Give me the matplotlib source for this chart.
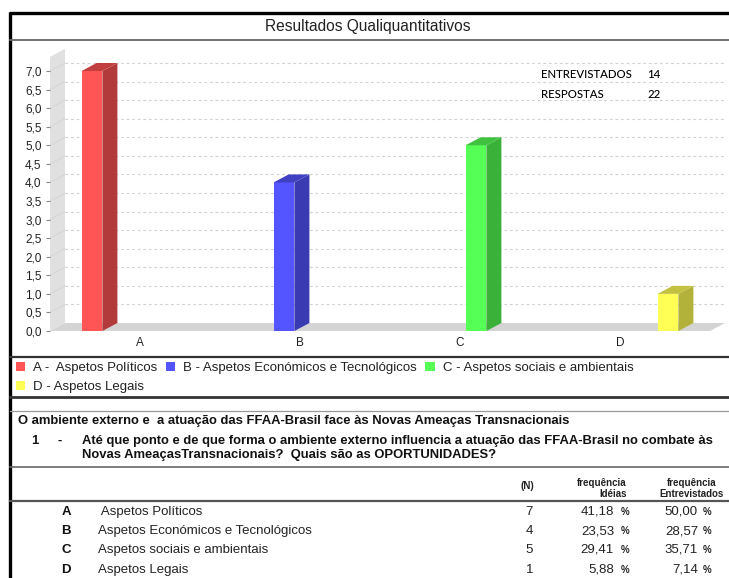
import matplotlib
matplotlib.use('Agg')
import matplotlib.pyplot as plt
from matplotlib.patches import Polygon
import numpy as np

plt.rcParams['font.family'] = ['Liberation Sans', 'DejaVu Sans']

# ---------------- data ----------------
categories = ['A', 'B', 'C', 'D']
series_names = ['A -  Aspetos Políticos', 'B - Aspetos Económicos e Tecnológicos',
                'C - Aspetos sociais e ambientais', 'D - Aspetos Legais']
values_A = [7, 0, 0, 0]
values_B = [0, 4, 0, 0]
values_C = [0, 0, 5, 0]
values_D = [0, 0, 0, 1]
y_ticks = [0.0, 0.5, 1.0, 1.5, 2.0, 2.5, 3.0, 3.5, 4.0, 4.5, 5.0, 5.5, 6.0, 6.5, 7.0]
entrevistados = 14
respostas = 22

table_letters = ['A', 'B', 'C', 'D']
table_names = [' Aspetos Políticos', 'Aspetos Económicos e Tecnológicos',
               'Aspetos sociais e ambientais', 'Aspetos Legais']
table_n = [7, 4, 5, 1]
freq_ideias = ['41,18', '23,53', '29,41', '5,88']
freq_entrev = ['50,00', '28,57', '35,71', '7,14']

# ---------------- styles ----------------
front_colors = ['#FF5555', '#5555FF', '#55FF55', '#FFFF55']
side_colors = ['#B23A3A', '#3A3AB2', '#3AB23A', '#B2B23A']
top_colors = ['#C23F3F', '#4040C2', '#40C240', '#C2C240']

W, H = 729, 578
fig = plt.figure(figsize=(W / 100, H / 100), dpi=100)

ov = fig.add_axes([0, 0, 1, 1], zorder=0)
ov.set_xlim(0, W)
ov.set_ylim(H, 0)
ov.axis('off')

# ---------------- chart axes ----------------
px_per_unit = 260 / 7.0
y0_px = 331
ytop = 7.38
x_left_px, x_right_px = 50, 710
ax = fig.add_axes([x_left_px / W, (H - y0_px) / H,
                   (x_right_px - x_left_px) / W, ytop * px_per_unit / H], zorder=2)
xlo, xhi = -0.5625, 3.5625
ax.set_xlim(xlo, xhi)
ax.set_ylim(0, ytop)
ax.patch.set_alpha(0)
for s in ax.spines.values():
    s.set_visible(False)

dx = 15 / (x_right_px - x_left_px) * (xhi - xlo)
dy = 8 / px_per_unit

# wall
ax.add_patch(Polygon([(xlo, 0), (xlo + dx, dy), (xlo + dx, ytop + dy), (xlo, ytop)],
                     closed=True, facecolor='#E0E0E0', edgecolor='none', clip_on=False, zorder=1))
# floor
ax.add_patch(Polygon([(xlo, 0), (xhi, 0), (xhi + dx, dy), (xlo + dx, dy)],
                     closed=True, facecolor='#D4D4D4', edgecolor='none', clip_on=False, zorder=1))
# gridlines
for v in y_ticks[1:]:
    ax.plot([xlo + dx, xhi + dx], [v + dy, v + dy], color='#D2D2D2', lw=0.8,
            ls=(0, (2.5, 2.5)), clip_on=False, zorder=1.5)
    ax.plot([xlo, xlo + dx], [v, v + dy], color='#D4D4D4', lw=0.6, clip_on=False, zorder=1.5)

# bars
x = np.arange(len(categories))
offsets = [-0.3, -0.1, 0.1, 0.3]
bw = 0.13
handles = []
for i, vals in enumerate([values_A, values_B, values_C, values_D]):
    bars = ax.bar(x + offsets[i], vals, width=bw, color=front_colors[i],
                  edgecolor='none', zorder=3, clip_on=False, label=series_names[i])
    handles.append(bars)
    for xi, v in zip(x, vals):
        if v <= 0:
            continue
        xl = xi + offsets[i] - bw / 2
        xr = xi + offsets[i] + bw / 2
        ax.add_patch(Polygon([(xr, 0), (xr + dx, dy), (xr + dx, v + dy), (xr, v)], closed=True,
                             facecolor=side_colors[i], edgecolor='none', zorder=3, clip_on=False))
        ax.add_patch(Polygon([(xl, v), (xl + dx, v + dy), (xr + dx, v + dy), (xr, v)], closed=True,
                             facecolor=top_colors[i], edgecolor='none', zorder=3, clip_on=False))

ax.set_yticks(y_ticks)
ax.set_yticklabels([f'{v:.1f}'.replace('.', ',') for v in y_ticks], fontsize=8.5, color='#222222')
ax.tick_params(axis='y', length=3, width=0.8, color='#888888', pad=3)
ax.set_xticks(x)
ax.set_xticklabels(categories, fontsize=8.5, color='#222222')
ax.tick_params(axis='x', length=0, pad=4)

# legend
leg = ax.legend(handles=[handles[0], handles[3], handles[1], handles[2]],
                labels=[series_names[0], series_names[3], series_names[1], series_names[2]],
                ncol=3, loc='upper left', bbox_to_anchor=(16 / W, (H - 362) / H),
                bbox_transform=fig.transFigure, frameon=False, fontsize=9.5,
                handlelength=0.7, handleheight=0.7, handletextpad=0.6,
                columnspacing=0.65, labelspacing=0.5, borderaxespad=0, borderpad=0)
for t in leg.get_texts():
    t.set_color('#222222')

# ---------------- frame / separators ----------------
ov.plot([9, W], [13, 13], color='black', lw=2.4, solid_capstyle='butt')
ov.plot([10, 10], [12, H], color='black', lw=2.4, solid_capstyle='butt')
ov.plot([10, W], [40, 40], color='#666666', lw=1.3)
ov.plot([10, W], [357, 357], color='#333333', lw=1.6)
ov.plot([10, W], [397, 397], color='#333333', lw=2.0)
ov.plot([10, W], [411, 411], color='#999999', lw=0.9)
ov.plot([10, W], [467, 467], color='#666666', lw=1.2)
ov.plot([10, W], [501, 501], color='#555555', lw=1.6)

# title
ov.text(368, 27, 'Resultados Qualiquantitativos', ha='center', va='center',
        fontsize=11.2, color='#222222')

# counts box
cfam = ['Lato', 'DejaVu Sans']
ov.text(541, 74, 'ENTREVISTADOS', ha='left', va='center', fontsize=8.2,
        family=cfam, fontweight='medium', color='black')
ov.text(647, 74, f'{entrevistados}', ha='left', va='center', fontsize=8.2,
        family=cfam, fontweight='medium', color='black')
ov.text(541, 94, 'RESPOSTAS', ha='left', va='center', fontsize=8.2,
        family=cfam, fontweight='medium', color='black')
ov.text(647, 94, f'{respostas}', ha='left', va='center', fontsize=8.2,
        family=cfam, fontweight='medium', color='black')

# question text
qfs = 9.4
ov.text(18, 421, 'O ambiente externo e  a atuação das FFAA-Brasil face às Novas Ameaças Transnacionais',
        ha='left', va='center', fontsize=qfs, fontweight='bold', color='#111111')
ov.text(31, 441, '1', ha='left', va='center', fontsize=qfs, fontweight='bold', color='#111111')
ov.text(58, 441, '-', ha='left', va='center', fontsize=qfs, fontweight='bold', color='#111111')
ov.text(82, 441, 'Até que ponto e de que forma o ambiente externo influencia a atuação das FFAA-Brasil no combate às',
        ha='left', va='center', fontsize=qfs, fontweight='bold', color='#111111')
ov.text(82, 455, 'Novas AmeaçasTransnacionais?  Quais são as OPORTUNIDADES?',
        ha='left', va='center', fontsize=qfs, fontweight='bold', color='#111111')

# table header
hfs = 7
ov.text(527, 486, '(N)', ha='center', va='center', fontsize=hfs, fontweight='bold', color='#222222')
ov.text(627, 483, 'frequência', ha='right', va='center', fontsize=hfs, fontweight='bold', color='#222222')
ov.text(627, 494, 'Idéias', ha='right', va='center', fontsize=hfs, fontweight='bold', color='#222222')
ov.text(692, 483, 'frequência', ha='center', va='center', fontsize=hfs, fontweight='bold', color='#222222')
ov.text(692, 494, 'Entrevistados', ha='center', va='center', fontsize=hfs, fontweight='bold', color='#222222')

# table rows
tfs = 9.5
row_y = [512, 531, 550, 570]
for yy, let, name, n, f1, f2 in zip(row_y, table_letters, table_names, table_n, freq_ideias, freq_entrev):
    ov.text(66, yy, let, ha='center', va='center', fontsize=tfs, fontweight='bold', color='#111111')
    ov.text(98, yy, name, ha='left', va='center', fontsize=tfs, color='#222222')
    ov.text(533, yy, f'{n}', ha='right', va='center', fontsize=tfs, color='#222222')
    ov.text(614, yy, f1, ha='right', va='center', fontsize=tfs, color='#222222')
    ov.text(621, yy, '%', ha='left', va='center', fontsize=7, fontweight='bold', color='#222222')
    ov.text(698, yy, f2, ha='right', va='center', fontsize=tfs, color='#222222')
    ov.text(703, yy, '%', ha='left', va='center', fontsize=7, fontweight='bold', color='#222222')

fig.savefig('out.png', dpi=100)
